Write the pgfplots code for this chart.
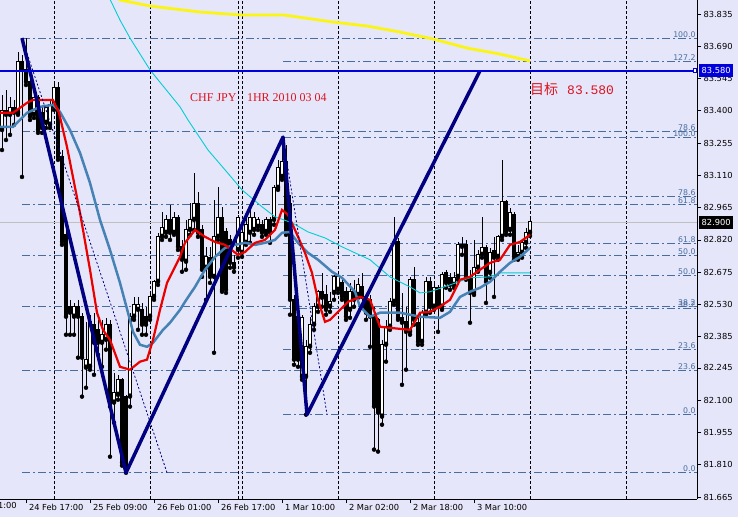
\documentclass[border=0pt]{standalone}
\usepackage{pgfplots}
\pgfplotsset{compat=1.18}
\usepackage{pgfplotstable}
\usepackage{fontspec}
\newfontfamily\tickfont{DejaVu Sans}
\newfontfamily\titlefont{Liberation Serif}
\newfontfamily\cjkfont{Noto Sans CJK SC}
\newfontfamily\monofont{Liberation Mono}
\definecolor{bgc}{RGB}{230,230,250}
\definecolor{navyc}{RGB}{0,0,128}
\definecolor{bluec}{RGB}{0,0,220}
\definecolor{steelc}{RGB}{70,130,180}
\definecolor{fibc}{RGB}{70,110,160}
\definecolor{cyanc}{RGB}{0,206,209}
\definecolor{yellowc}{RGB}{250,245,20}
\definecolor{redc}{RGB}{235,0,0}
\definecolor{txtred}{RGB}{220,20,30}
\definecolor{silverc}{RGB}{192,192,192}

\pgfplotstableread{
x o h l c
-13 83.314 83.471 83.224 83.404
-11 83.382 83.462 83.292 83.413
-9 83.391 83.665 83.382 83.620
-5 83.382 83.485 83.368 83.462
-2 83.346 83.427 83.323 83.413
-1 83.337 83.449 83.323 83.427
0 83.418 83.530 83.404 83.503
5 82.475 82.537 82.394 82.520
8 82.246 82.452 82.156 82.282
9 82.250 82.484 82.237 82.452
12 82.358 82.461 82.250 82.394
13 82.371 82.470 82.327 82.439
15 82.089 82.223 81.999 82.133
16 82.124 82.214 82.102 82.192
19 82.116 82.493 82.071 82.475
20 82.475 82.564 82.461 82.529
21 82.506 82.564 82.416 82.529
24 82.475 82.582 82.461 82.564
25 82.564 82.641 82.551 82.632
26 82.632 82.852 82.618 82.834
27 82.834 82.946 82.820 82.874
28 82.852 82.933 82.834 82.910
30 82.852 82.946 82.843 82.919
33 82.722 82.910 82.686 82.865
34 82.865 82.986 82.843 82.910
35 82.910 83.121 82.865 82.986
38 82.695 82.789 82.551 82.744
40 82.654 83.000 82.313 82.834
41 82.834 83.058 82.820 82.919
46 82.775 82.933 82.740 82.919
47 82.762 82.874 82.744 82.852
48 82.807 82.933 82.798 82.888
49 82.852 82.955 82.807 82.919
50 82.865 82.946 82.843 82.919
51 82.879 82.924 82.865 82.910
53 82.856 82.924 82.843 82.910
55 82.910 83.067 82.888 83.054
56 83.054 83.180 83.045 83.144
57 83.103 83.282 83.090 83.171
62 82.205 82.484 82.192 82.470
63 82.205 82.371 82.035 82.340
64 82.340 82.475 82.313 82.439
65 82.439 82.537 82.416 82.520
66 82.520 82.596 82.497 82.587
69 82.520 82.587 82.497 82.542
70 82.582 82.663 82.551 82.654
71 82.596 82.677 82.582 82.654
74 82.506 82.627 82.470 82.587
76 82.573 82.650 82.560 82.618
82 82.026 82.371 81.990 82.349
83 82.349 82.461 82.273 82.430
84 82.430 82.560 82.416 82.542
85 82.542 82.924 82.529 82.811
89 82.407 82.654 82.394 82.641
92 82.362 82.506 82.349 82.493
93 82.493 82.654 82.484 82.632
95 82.520 82.627 82.506 82.605
97 82.520 82.677 82.506 82.663
100 82.618 82.677 82.605 82.650
101 82.654 82.811 82.641 82.798
105 82.582 82.820 82.573 82.695
106 82.695 82.775 82.677 82.753
107 82.753 82.924 82.740 82.784
109 82.672 82.784 82.650 82.766
111 82.744 82.843 82.731 82.834
112 82.834 83.180 82.820 82.991
114 82.865 82.964 82.843 82.942
116 82.744 82.798 82.731 82.766
117 82.762 82.820 82.740 82.807
118 82.807 82.874 82.784 82.852
119 82.852 82.919 82.838 82.901
}\bull

\pgfplotstableread{
x o h l c
-12 83.404 83.494 83.269 83.382
-10 83.413 83.449 83.337 83.391
-8 83.620 83.651 83.103 83.584
-7 83.584 83.727 83.516 83.530
-6 83.530 83.561 83.359 83.373
-4 83.462 83.471 83.301 83.314
-3 83.395 83.418 83.301 83.323
1 83.507 83.530 83.180 83.193
2 83.193 83.224 82.798 82.811
3 82.843 82.865 82.394 82.475
4 82.520 82.551 82.394 82.493
6 82.520 82.551 82.291 82.475
7 82.475 82.493 82.116 82.291
10 82.439 82.493 82.214 82.358
11 82.416 82.461 82.304 82.358
14 82.439 82.461 81.846 82.071
17 82.192 82.201 81.806 81.819
18 82.116 82.124 81.774 81.788
22 82.506 82.537 82.394 82.439
23 82.475 82.520 82.394 82.439
29 82.910 82.978 82.820 82.852
31 82.919 82.933 82.775 82.789
32 82.789 82.820 82.677 82.731
36 82.986 83.036 82.834 82.852
37 82.865 82.888 82.654 82.686
39 82.740 82.789 82.627 82.654
42 82.919 82.969 82.587 82.596
43 82.856 82.874 82.582 82.596
44 82.820 82.843 82.695 82.717
45 82.717 82.753 82.677 82.695
52 82.888 82.910 82.834 82.852
54 82.910 82.924 82.807 82.852
58 83.171 83.247 82.843 82.856
59 82.986 83.022 82.484 82.551
60 82.551 82.573 82.259 82.282
61 82.475 82.475 82.250 82.282
67 82.587 82.672 82.520 82.560
68 82.573 82.618 82.484 82.506
72 82.627 82.650 82.551 82.564
73 82.587 82.609 82.461 82.475
75 82.587 82.641 82.520 82.551
77 82.609 82.672 82.520 82.564
78 82.564 82.582 82.461 82.493
79 82.551 82.573 82.340 82.475
80 82.475 82.520 81.878 82.071
81 82.461 82.470 81.869 82.044
86 82.811 82.829 82.461 82.470
87 82.470 82.582 82.169 82.448
88 82.452 82.520 82.237 82.407
90 82.641 82.699 82.439 82.461
91 82.448 82.470 82.349 82.362
94 82.632 82.654 82.493 82.520
96 82.605 82.618 82.407 82.520
98 82.672 82.686 82.605 82.627
99 82.650 82.672 82.596 82.618
102 82.798 82.834 82.753 82.789
103 82.798 82.820 82.641 82.654
104 82.654 82.686 82.448 82.582
108 82.784 82.798 82.537 82.632
110 82.775 82.834 82.564 82.740
113 82.991 83.000 82.843 82.856
115 82.933 82.946 82.731 82.744
}\bear

\begin{document}
\begin{tikzpicture}
\fill[bgc] (0,0) rectangle (738pt,517pt);
\begin{axis}[
  at={(0pt,517pt)}, anchor=north west,
  scale only axis, width=697pt, height=499pt,
  xmin=-13.5, xmax=160.75, ymin=81.656, ymax=83.898,
  axis x line*=bottom, axis y line*=right,
  axis line style={black, line width=0.8pt},
  clip mode=individual,
  xtick={-7,9,25,41,57,73,89,105},
  xticklabels={24 Feb 17:00,25 Feb 09:00,26 Feb 01:00,26 Feb 17:00,1 Mar 10:00,2 Mar 02:00,2 Mar 18:00,3 Mar 10:00},
  ytick={81.665,81.810,81.955,82.100,82.245,82.385,82.530,82.675,82.820,82.965,83.110,83.255,83.400,83.545,83.690,83.835},
  scaled y ticks=false,
  yticklabel={\pgfmathprintnumber[fixed,fixed zerofill,precision=3]{\tick}},
  /pgf/number format/assume math mode=true,
  tick align=outside, major tick length=4pt,
  tick style={black, line width=0.8pt},
  ticklabel style={font=\tickfont\fontsize{8.3}{9}\selectfont},
  xticklabel style={anchor=north west, xshift=-0.5pt, yshift=2pt},
  yticklabel style={anchor=west, xshift=-1pt},
]
% period separators
\foreach \s in {0,24,46,47,71,95,119,143}{
  \edef\temp{\noexpand\addplot[black, line width=0.8pt, dash pattern=on 3pt off 2pt, forget plot] coordinates {(\s,81.656) (\s,83.898)};}
  \temp
}
% current price line
\addplot[silverc, line width=0.9pt] coordinates {(-13.5,82.900) (160.75,82.900)};
% Fibonacci A
\foreach \v in {81.774,82.235,82.520,82.751,82.981,83.309,83.727}{
  \edef\temp{\noexpand\addplot[fibc, line width=0.9pt, dash pattern=on 8pt off 3pt on 2pt off 3pt] coordinates {(-8,\v) (160.75,\v)};}
  \temp
}
% Fibonacci B
\foreach \v in {82.035,82.329,82.511,82.659,82.806,83.015,83.282,83.621}{
  \edef\temp{\noexpand\addplot[fibc, line width=0.9pt, dash pattern=on 8pt off 3pt on 2pt off 3pt] coordinates {(57.25,\v) (160.75,\v)};}
  \temp
}
% wicks
\addplot[only marks, mark=none, error bars/.cd, y dir=plus, y explicit, error mark=none, error bar style={draw=black, line width=1pt}]
  table[x=x, y=l, y error plus expr={\thisrow{h}-\thisrow{l}}] {\bull};
\addplot[only marks, mark=none, error bars/.cd, y dir=plus, y explicit, error mark=none, error bar style={draw=black, line width=1pt}]
  table[x=x, y=l, y error plus expr={\thisrow{h}-\thisrow{l}}] {\bear};
% bodies
\addplot[only marks, mark=none, error bars/.cd, y dir=plus, y explicit, error mark=none, error bar style={draw=black, line width=3.4pt}]
  table[x=x, y=c, y error plus expr={\thisrow{o}-\thisrow{c}+0.002}] {\bear};
\addplot[only marks, mark=none, error bars/.cd, y dir=plus, y explicit, error mark=none, error bar style={draw=black, line width=3.4pt}]
  table[x=x, y=o, y error plus expr={\thisrow{c}-\thisrow{o}+0.002}] {\bull};
\addplot[only marks, mark=none, error bars/.cd, y dir=plus, y explicit, error mark=none, error bar style={draw=white, line width=1.6pt}]
  table[x=x, y expr={\thisrow{o}+0.0045}, y error plus expr={max(\thisrow{c}-\thisrow{o}-0.007,0)}] {\bull};
% moving averages
\addplot[yellowc, line width=2.8pt] coordinates {(16,83.907) (16.5,83.898) (24,83.871) (36.5,83.844) (46.5,83.831) (57.25,83.831) (69.75,83.799) (78.25,83.781) (86.5,83.754) (94.75,83.723) (103.25,83.682) (111.5,83.655) (119,83.624)};
\addplot[cyanc, line width=0.9pt] coordinates {(13.5,83.920) (16.5,83.808) (19,83.727) (24,83.584) (31.5,83.418) (33.5,83.359) (38.5,83.224) (42.75,83.135) (47,83.045) (52,82.969) (55.25,82.924) (59.5,82.897) (63.5,82.856) (67.75,82.829) (72,82.789) (75.25,82.762) (79,82.731) (84,82.654) (89,82.609) (91.5,82.582) (94,82.587) (99,82.618) (104,82.650) (109,82.654) (111.5,82.672) (119,82.672)};
\addplot[steelc, line width=2.5pt] coordinates {(-13.5,83.328) (-10.25,83.328) (-6.75,83.391) (-3.5,83.418) (-0.25,83.427) (1.5,83.395) (4,83.314) (6.5,83.211) (9,83.076) (11.5,82.910) (14,82.775) (16.5,82.627) (18.5,82.493) (19.75,82.407) (21.5,82.349) (23.25,82.340) (24.75,82.358) (27.25,82.416) (29,82.448) (31.5,82.506) (32.75,82.542) (35.25,82.609) (37.75,82.686) (40.25,82.744) (42.75,82.784) (45.25,82.798) (47.75,82.807) (50.25,82.798) (52.75,82.807) (55.25,82.820) (57,82.852) (59,82.856) (61,82.807) (63.5,82.762) (66,82.731) (69.5,82.677) (72,82.650) (75.25,82.587) (76.5,82.520) (79,82.475) (81.5,82.493) (86.5,82.493) (91.5,82.475) (96.5,82.470) (99,82.497) (101.5,82.564) (104,82.587) (106.5,82.605) (109,82.632) (111.5,82.677) (114,82.717) (116.5,82.744) (119,82.784)};
\addplot[redc, line width=2.2pt] coordinates {(-13.5,83.391) (-10.25,83.391) (-6.75,83.436) (-5.25,83.449) (-0.25,83.449) (1.25,83.391) (3.25,83.238) (6.5,82.942) (9,82.686) (10.75,82.493) (12.25,82.416) (14,82.371) (16.5,82.250) (19,82.237) (21.5,82.273) (23.25,82.282) (24.75,82.371) (26.5,82.506) (28.25,82.627) (31.5,82.744) (32.75,82.807) (35.25,82.865) (37.75,82.834) (40.25,82.811) (42.75,82.798) (46,82.753) (47.75,82.766) (50.25,82.807) (52.75,82.820) (55.25,82.865) (57,82.955) (58.5,82.933) (60.25,82.865) (62.75,82.762) (64.5,82.672) (66,82.551) (67.75,82.452) (69,82.461) (71,82.497) (73.5,82.542) (76.5,82.564) (79,82.551) (81.5,82.430) (84,82.425) (89,82.416) (91.5,82.493) (94,82.497) (96.5,82.520) (99,82.551) (101.5,82.641) (104,82.654) (106.5,82.686) (109,82.717) (111.5,82.731) (114,82.798) (116.5,82.811) (119,82.843)};
% thin dashed projections
\addplot[navyc, line width=0.8pt, dash pattern=on 2pt off 2pt] coordinates {(-8,83.727) (28.25,81.774)};
\addplot[navyc, line width=0.8pt, dash pattern=on 2pt off 2pt] coordinates {(57.25,83.282) (68.25,82.035)};
% zigzag
\addplot[navyc, line width=3.5pt, line join=round] coordinates {(-8,83.727) (18,81.774) (57.25,83.282) (63.25,82.035) (106.5,83.580)};
% target line
\addplot[bluec, line width=2.5pt] coordinates {(-13.5,83.580) (160.75,83.580)};
\addplot[only marks, mark=square*, mark size=1.8pt, mark options={fill=white, draw=bluec, line width=1pt}] coordinates {(160.2,83.580)};
% fib labels
\foreach \v/\t in {81.774/0.0,82.235/23.6,82.520/38.2,82.751/50.0,82.981/61.8,83.309/78.6,83.727/100.0,82.035/0.0,82.329/23.6,82.511/38.2,82.659/50.0,82.806/61.8,83.015/78.6,83.282/100.0,83.621/127.2}{
  \edef\temp{\noexpand\node[anchor=south east, inner sep=0.6pt, text=fibc, font=\noexpand\tickfont\noexpand\fontsize{7.8}{8}\noexpand\selectfont] at (axis cs:160.6,\v) {\t};}
  \temp
}
% texts
\node[anchor=base west, inner sep=0pt, text=txtred, font=\titlefont\fontsize{12}{14}\selectfont] at (axis cs:34,83.440) {CHF JPY\hspace{10.5pt}1HR 2010 03 04};
\node[anchor=west, inner sep=0pt, text=txtred] at (axis cs:119,83.498) {{\cjkfont\fontsize{14}{16}\selectfont 目标}\hspace{9pt}{\monofont\fontsize{13}{15}\selectfont 83.580}};
\node[anchor=north west, inner sep=0pt, font=\tickfont\fontsize{8.3}{9}\selectfont, yshift=-2.5pt] at (axis cs:-23,81.656) {24 Feb 01:00};
% price boxes
\node[anchor=west, fill=bluec, text=white, inner xsep=2.5pt, inner ysep=0pt, minimum height=13pt, font=\tickfont\fontsize{8.3}{9}\selectfont, xshift=2pt] at (axis cs:160.75,83.580) {83.580};
\node[anchor=west, fill=black, text=white, inner xsep=2.5pt, inner ysep=0pt, minimum height=13pt, font=\tickfont\fontsize{8.3}{9}\selectfont, xshift=2pt] at (axis cs:160.75,82.900) {82.900};
\end{axis}
\pgfresetboundingbox
\path[use as bounding box] (0,0) rectangle (738pt,517pt);
\end{tikzpicture}
\end{document}
